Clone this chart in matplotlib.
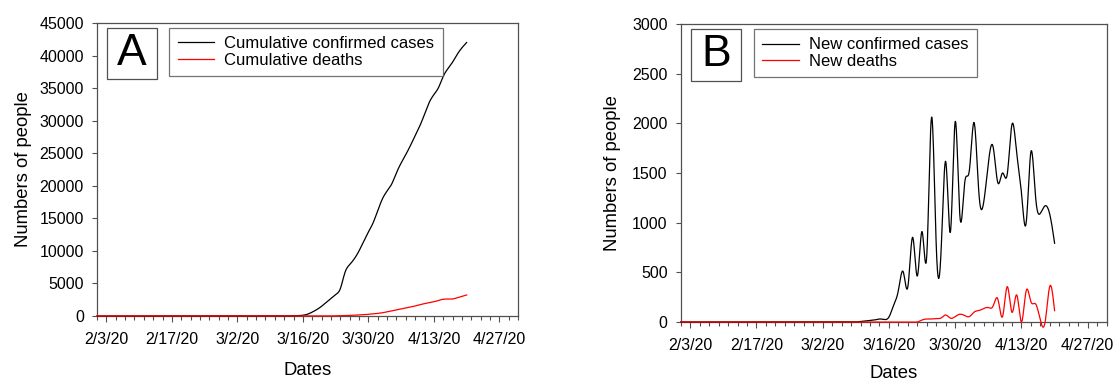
import numpy as np
import pandas as pd
import matplotlib
matplotlib.use("Agg")
import matplotlib.pyplot as plt
import matplotlib.dates as mdates
from matplotlib.patches import Rectangle

plt.rcParams["font.family"] = ["Liberation Sans", "DejaVu Sans"]

# daily data, 2/1/20 .. 4/20/20
dates = pd.date_range("2020-02-01", "2020-04-20", freq="D")

cum_cases = [0] * 38 + [
    5, 10, 15, 25, 40, 60, 110, 280, 600, 1000,
    1500, 2100, 2700, 3300, 4200, 6700, 7900, 8800, 10000, 11500,
    12900, 14300, 16200, 18000, 19200, 20300, 22000, 23500, 24800, 26200,
    27700, 29200, 31000, 32800, 34000, 35100, 36800, 38000, 39000, 40200,
    41200, 42000]

cum_deaths = [0] * 50 + [
    10, 25, 45, 65, 90, 120, 160, 200, 260, 320,
    400, 500, 640, 790, 950, 1080, 1220, 1370, 1550, 1750,
    1900, 2050, 2180, 2400, 2570, 2610, 2620, 2800, 3000, 3230]

new_cases = [0] * 38 + [
    5, 10, 15, 20, 30, 25, 50, 170, 320, 507,
    355, 853, 463, 910, 675, 2061, 760, 700, 1615, 910,
    2017, 1060, 1400, 1530, 2007, 1300, 1200, 1600, 1765, 1403,
    1500, 1490, 1991, 1700, 1300, 1000, 1715, 1250, 1095, 1170,
    1080, 793]

new_deaths = [0] * 51 + [
    20, 30, 30, 35, 40, 70, 38, 55, 78, 65,
    55, 100, 115, 135, 145, 160, 232, 54, 356, 97,
    272, 0, 315, 204, 181, 15, 0, 362, 114]

major_ticks = ["2020-02-03", "2020-02-17", "2020-03-02", "2020-03-16",
               "2020-03-30", "2020-04-13", "2020-04-27"]
major_labels = ["2/3/20", "2/17/20", "3/2/20", "3/16/20", "3/30/20", "4/13/20", "4/27/20"]


def spline_curve(x, y, n=20):
    # natural cubic spline, like the smoothed lines of the original
    x = np.asarray(x, float)
    y = np.asarray(y, float)
    m = len(x)
    h = np.diff(x)
    A = np.zeros((m, m))
    r = np.zeros(m)
    A[0, 0] = A[-1, -1] = 1
    for i in range(1, m - 1):
        A[i, i - 1] = h[i - 1]
        A[i, i] = 2 * (h[i - 1] + h[i])
        A[i, i + 1] = h[i]
        r[i] = 6 * ((y[i + 1] - y[i]) / h[i] - (y[i] - y[i - 1]) / h[i - 1])
    M = np.linalg.solve(A, r)
    xs = np.linspace(x[0], x[-1], (m - 1) * n + 1)
    i = np.clip(np.searchsorted(x, xs) - 1, 0, m - 2)
    t0 = xs - x[i]
    t1 = x[i + 1] - xs
    hi = h[i]
    ys = ((M[i] * t1 ** 3 + M[i + 1] * t0 ** 3) / (6 * hi)
          + (y[i] / hi - M[i] * hi / 6) * t1
          + (y[i + 1] / hi - M[i + 1] * hi / 6) * t0)
    return xs, ys


xnum = mdates.date2num(dates)
spine_col = "#505050"

fig = plt.figure(figsize=(11.13, 3.81), dpi=100)
ax1 = fig.add_axes([0.0872, 0.1706, 0.3783, 0.769])
ax2 = fig.add_axes([0.6116, 0.1549, 0.3827, 0.782])


def style_axes(ax, ymax, ystep, letter, labels, xpad, ypad):
    ax.set_xlim(mdates.date2num(pd.Timestamp("2020-02-01")),
                mdates.date2num(pd.Timestamp("2020-05-01")))
    ax.set_ylim(0, ymax)
    ax.set_xticks(mdates.date2num(pd.to_datetime(major_ticks)))
    ax.set_xticklabels(major_labels)
    minor = pd.date_range("2020-02-01", "2020-05-01", freq="2D")
    ax.set_xticks(mdates.date2num(minor), minor=True)
    ax.set_yticks(np.arange(0, ymax + 1, ystep))
    ax.tick_params(axis="both", which="both", direction="out", color=spine_col,
                   width=0.8, labelsize=11.5)
    ax.tick_params(axis="x", which="major", length=4.5, pad=7)
    ax.tick_params(axis="x", which="minor", length=3)
    ax.tick_params(axis="y", length=3.5, pad=6)
    ax.tick_params(top=False, right=False)
    for s in ax.spines.values():
        s.set_color(spine_col)
        s.set_linewidth(0.9)
    ax.set_xlabel("Dates", fontsize=13.3, labelpad=xpad)
    ax.set_ylabel("Numbers of people", fontsize=13.3, labelpad=ypad)
    ax.add_patch(Rectangle((0.023, 0.81), 0.1195, 0.173, transform=ax.transAxes,
                           fill=False, edgecolor=spine_col, linewidth=0.9, zorder=5))
    ax.text(0.023 + 0.1195 / 2, 0.81 + 0.173 / 2, letter, transform=ax.transAxes,
            fontsize=32, ha="center", va="center", zorder=6)
    leg = ax.legend(labels=labels, loc="upper left", bbox_to_anchor=(0.172, 0.983),
                    borderaxespad=0, fontsize=12, frameon=True, fancybox=False,
                    handlelength=2.2, handletextpad=0.6, borderpad=0.5,
                    labelspacing=0.1)
    leg.get_frame().set_edgecolor(spine_col)
    leg.get_frame().set_linewidth(0.9)


xs, ys = spline_curve(xnum, cum_cases)
ax1.plot(xs, ys, color="black", lw=0.9, clip_on=False, zorder=3)
xs, ys = spline_curve(xnum, cum_deaths)
ax1.plot(xs, ys, color="red", lw=0.9, clip_on=False, zorder=4)
style_axes(ax1, 45000, 5000, "A", ["Cumulative confirmed cases", "Cumulative deaths"], 11, 5.5)

xs, ys = spline_curve(xnum, new_cases)
ax2.plot(xs, ys, color="black", lw=0.9, clip_on=False, zorder=3)
xs, ys = spline_curve(xnum, new_deaths)
ax2.plot(xs, ys, color="red", lw=0.9, clip_on=False, zorder=4)
style_axes(ax2, 3000, 500, "B", ["New confirmed cases", "New deaths"], 9, 8)

fig.savefig("out.png", dpi=100)
